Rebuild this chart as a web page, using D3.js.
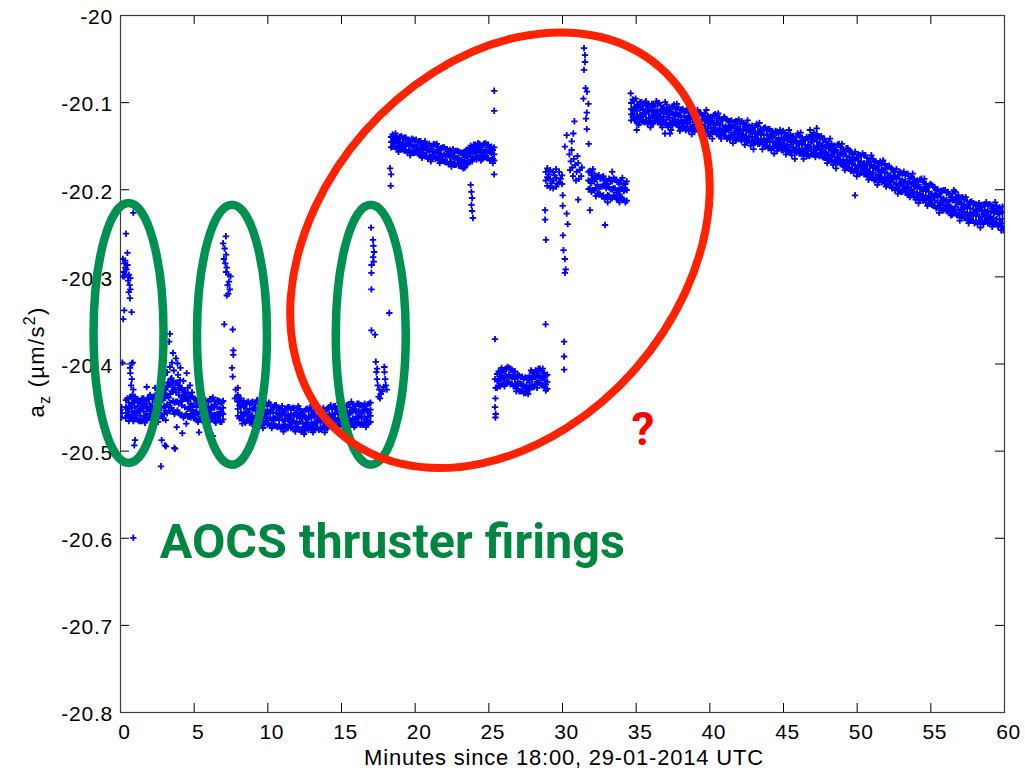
<!DOCTYPE html>
<html><head><meta charset="utf-8">
<script src="https://cdn.jsdelivr.net/npm/d3@7"></script>
<style>html,body{margin:0;padding:0;background:#fff;}svg{display:block;}</style>
</head><body>
<script>
// ---------- axis ticks ----------
const xTicks = [0,5,10,15,20,25,30,35,40,45,50,55,60];
const yTicks = [-20.8,-20.7,-20.6,-20.5,-20.4,-20.3,-20.2,-20.1,-20];
const xLabel = "Minutes since 18:00, 29-01-2014 UTC";

// ---------- data: rows are [minute, a_z values...] ----------
const baselineBand = [
[0.4,-20.442,-20.450,-20.457,-20.463],[0.6,-20.445,-20.452,-20.459,-20.466],[0.8,-20.440,-20.448,-20.455,-20.462],
[1.0,-20.443,-20.451,-20.458,-20.464],[1.2,-20.441,-20.449,-20.457,-20.465],[1.4,-20.444,-20.452,-20.460,-20.466],
[1.6,-20.440,-20.447,-20.455,-20.463],[1.8,-20.442,-20.450,-20.458,-20.465],[2.0,-20.438,-20.446,-20.454,-20.462],
[2.2,-20.441,-20.449,-20.457,-20.464],[2.4,-20.436,-20.444,-20.452,-20.460],[2.6,-20.439,-20.447,-20.455,-20.463],
[2.8,-20.434,-20.442,-20.451,-20.460],[3.0,-20.430,-20.440,-20.449,-20.458],[3.2,-20.427,-20.437,-20.447,-20.457],
[3.4,-20.424,-20.435,-20.445,-20.455],[3.6,-20.420,-20.432,-20.443,-20.454],[3.8,-20.422,-20.433,-20.444,-20.456],
[4.0,-20.425,-20.436,-20.446,-20.457],[4.2,-20.428,-20.438,-20.448,-20.459],[4.4,-20.431,-20.440,-20.450,-20.460],
[4.6,-20.434,-20.443,-20.452,-20.461],[4.8,-20.438,-20.446,-20.454,-20.462],[5.0,-20.440,-20.448,-20.456,-20.463],
[5.2,-20.442,-20.450,-20.457,-20.465],[5.4,-20.441,-20.449,-20.456,-20.464],[5.6,-20.443,-20.451,-20.458,-20.466],
[5.8,-20.442,-20.450,-20.459,-20.465],[6.0,-20.444,-20.452,-20.460,-20.467],[6.2,-20.441,-20.449,-20.457,-20.464],
[6.4,-20.443,-20.451,-20.459,-20.466],[6.6,-20.442,-20.450,-20.458,-20.465],[6.8,-20.444,-20.452,-20.460,-20.467],
[7.0,-20.443,-20.451,-20.458,-20.464],
[8.0,-20.436,-20.444,-20.452,-20.460],[8.2,-20.440,-20.448,-20.456,-20.463],[8.4,-20.443,-20.450,-20.458,-20.465],
[8.6,-20.445,-20.452,-20.459,-20.466],[8.8,-20.446,-20.453,-20.461,-20.468],[9.0,-20.444,-20.452,-20.460,-20.467],
[9.2,-20.447,-20.454,-20.461,-20.469],[9.4,-20.445,-20.453,-20.460,-20.468],[9.6,-20.448,-20.455,-20.462,-20.470],
[9.8,-20.446,-20.454,-20.461,-20.469],[10.0,-20.449,-20.456,-20.463,-20.470],[10.2,-20.447,-20.455,-20.462,-20.471],
[10.4,-20.450,-20.457,-20.464,-20.471],[10.6,-20.448,-20.456,-20.463,-20.472],[10.8,-20.451,-20.458,-20.465,-20.472],
[11.0,-20.449,-20.457,-20.464,-20.473],[11.2,-20.452,-20.459,-20.466,-20.473],[11.4,-20.450,-20.458,-20.465,-20.474],
[11.6,-20.453,-20.460,-20.467,-20.474],[11.8,-20.451,-20.459,-20.466,-20.475],[12.0,-20.454,-20.461,-20.468,-20.475],
[12.2,-20.452,-20.460,-20.467,-20.476],[12.4,-20.455,-20.462,-20.469,-20.476],[12.6,-20.453,-20.461,-20.468,-20.477],
[12.8,-20.455,-20.462,-20.470,-20.476],[13.0,-20.453,-20.461,-20.468,-20.475],[13.2,-20.455,-20.462,-20.469,-20.476],
[13.4,-20.452,-20.460,-20.467,-20.474],[13.6,-20.454,-20.461,-20.468,-20.475],[13.8,-20.451,-20.459,-20.466,-20.473],
[14.0,-20.453,-20.460,-20.467,-20.474],[14.2,-20.450,-20.458,-20.465,-20.472],[14.4,-20.452,-20.459,-20.466,-20.473],
[14.6,-20.449,-20.457,-20.464,-20.471],[14.8,-20.451,-20.458,-20.465,-20.472],[15.0,-20.448,-20.456,-20.463,-20.470],
[15.2,-20.450,-20.457,-20.464,-20.471],[15.4,-20.448,-20.455,-20.462,-20.470],[15.6,-20.450,-20.457,-20.465,-20.472],
[15.8,-20.447,-20.455,-20.463,-20.470],[16.0,-20.449,-20.456,-20.464,-20.471],[16.2,-20.446,-20.454,-20.462,-20.469],
[16.4,-20.448,-20.456,-20.463,-20.470],[16.6,-20.446,-20.453,-20.461,-20.468],[16.8,-20.447,-20.455,-20.462,-20.469],
[17.0,-20.445,-20.453,-20.460,-20.467]
];
const baselineBandB = [
[0.5,-20.440,-20.452,-20.460],[0.7,-20.438,-20.449,-20.462],[0.9,-20.445,-20.457,-20.466],[1.1,-20.441,-20.456,-20.463],
[1.3,-20.444,-20.455,-20.466],[1.5,-20.445,-20.451,-20.466],[1.7,-20.447,-20.460,-20.468],[1.9,-20.441,-20.452,-20.463],
[2.1,-20.438,-20.450,-20.458],[2.3,-20.438,-20.453,-20.460],[2.5,-20.442,-20.454,-20.463],[2.7,-20.433,-20.444,-20.457],
[2.9,-20.434,-20.442,-20.463],[3.1,-20.436,-20.454,-20.465],[3.3,-20.422,-20.439,-20.450],[3.5,-20.417,-20.432,-20.451],
[3.7,-20.428,-20.445,-20.458],[3.9,-20.423,-20.444,-20.454],[4.1,-20.428,-20.443,-20.459],[4.3,-20.433,-20.441,-20.462],
[4.5,-20.440,-20.458,-20.469],[4.7,-20.439,-20.450,-20.461],[4.9,-20.438,-20.450,-20.458],[5.1,-20.441,-20.456,-20.463],
[5.3,-20.446,-20.458,-20.467],[5.5,-20.439,-20.450,-20.463],[5.7,-20.446,-20.452,-20.467],[5.9,-20.450,-20.463,-20.471],
[6.1,-20.441,-20.453,-20.461],[6.3,-20.439,-20.450,-20.463],[6.5,-20.447,-20.459,-20.468],[6.7,-20.443,-20.458,-20.465],
[6.9,-20.445,-20.456,-20.467],
[8.1,-20.442,-20.448,-20.463],[8.3,-20.448,-20.461,-20.469],[8.5,-20.446,-20.457,-20.468],[8.7,-20.444,-20.456,-20.464],
[8.9,-20.445,-20.460,-20.467],[9.1,-20.451,-20.463,-20.472],[9.3,-20.442,-20.453,-20.466],[9.5,-20.450,-20.456,-20.471],
[9.7,-20.453,-20.466,-20.474],[9.9,-20.446,-20.458,-20.466],[10.1,-20.445,-20.456,-20.469],[10.3,-20.453,-20.465,-20.474],
[10.5,-20.448,-20.463,-20.470],[10.7,-20.451,-20.462,-20.473],[10.9,-20.453,-20.459,-20.474],[11.1,-20.457,-20.470,-20.478],
[11.3,-20.452,-20.463,-20.474],[11.5,-20.450,-20.462,-20.470],[11.7,-20.451,-20.466,-20.473],[11.9,-20.457,-20.469,-20.478],
[12.1,-20.449,-20.460,-20.473],[12.3,-20.457,-20.463,-20.478],[12.5,-20.460,-20.473,-20.481],[12.7,-20.452,-20.464,-20.472],
[12.9,-20.450,-20.461,-20.474],[13.1,-20.458,-20.470,-20.479],[13.3,-20.452,-20.467,-20.474],[13.5,-20.454,-20.465,-20.476],
[13.7,-20.455,-20.461,-20.476],[13.9,-20.458,-20.471,-20.479],[14.1,-20.452,-20.463,-20.474],[14.3,-20.448,-20.460,-20.468],
[14.5,-20.449,-20.464,-20.471],[14.7,-20.453,-20.465,-20.474],[14.9,-20.445,-20.456,-20.469],[15.1,-20.451,-20.457,-20.472],
[15.3,-20.454,-20.467,-20.475],[15.5,-20.447,-20.459,-20.467],[15.7,-20.444,-20.455,-20.468],[15.9,-20.452,-20.464,-20.473],
[16.1,-20.446,-20.461,-20.468],[16.3,-20.448,-20.459,-20.470],[16.5,-20.449,-20.455,-20.470],[16.7,-20.452,-20.465,-20.473],
[16.9,-20.446,-20.457,-20.468]
];

const upperBand = [
[18.4,-20.140,-20.146,-20.152],[18.6,-20.139,-20.145,-20.151],[18.8,-20.141,-20.147,-20.153],[19.0,-20.140,-20.146,-20.153],
[19.2,-20.142,-20.148,-20.154],[19.4,-20.141,-20.148,-20.155],[19.6,-20.143,-20.150,-20.156],[19.8,-20.142,-20.149,-20.157],
[20.0,-20.144,-20.151,-20.158],[20.2,-20.146,-20.152,-20.159],[20.4,-20.145,-20.153,-20.160],[20.6,-20.147,-20.154,-20.161],
[20.8,-20.149,-20.155,-20.162],[21.0,-20.148,-20.156,-20.163],[21.2,-20.150,-20.157,-20.164],[21.4,-20.149,-20.158,-20.165],
[21.6,-20.151,-20.159,-20.166],[21.8,-20.153,-20.160,-20.167],[22.0,-20.152,-20.160,-20.168],[22.2,-20.154,-20.161,-20.169],
[22.4,-20.155,-20.163,-20.170],[22.6,-20.154,-20.162,-20.171],[22.8,-20.156,-20.164,-20.172],[23.0,-20.157,-20.165,-20.173],
[23.2,-20.158,-20.166,-20.174],[23.4,-20.157,-20.167,-20.175],[23.6,-20.155,-20.163,-20.171],[23.8,-20.150,-20.158,-20.166],
[24.0,-20.149,-20.157,-20.165],[24.2,-20.151,-20.158,-20.166],[24.4,-20.148,-20.156,-20.164],[24.6,-20.150,-20.157,-20.165],
[24.8,-20.147,-20.155,-20.163],[25.0,-20.149,-20.156,-20.164],[25.2,-20.151,-20.158,-20.166],[25.4,-20.152,-20.160,-20.167]
];
const upperBandB = [
[18.5,-20.137,-20.145,-20.151],[18.7,-20.136,-20.143,-20.152],[18.9,-20.142,-20.151,-20.157],[19.1,-20.139,-20.149,-20.154],
[19.3,-20.141,-20.149,-20.156],[19.5,-20.143,-20.148,-20.158],[19.7,-20.146,-20.156,-20.161],[19.9,-20.143,-20.151,-20.158],
[20.1,-20.143,-20.151,-20.157],[20.3,-20.145,-20.155,-20.160],[20.5,-20.149,-20.158,-20.164],[20.7,-20.145,-20.152,-20.161],
[20.9,-20.150,-20.155,-20.165],[21.1,-20.153,-20.163,-20.168],[21.3,-20.148,-20.156,-20.162],[21.5,-20.148,-20.155,-20.164],
[21.7,-20.155,-20.164,-20.170],[21.9,-20.152,-20.162,-20.167],[22.1,-20.154,-20.162,-20.169],[22.3,-20.156,-20.161,-20.171],
[22.5,-20.159,-20.169,-20.174],[22.7,-20.157,-20.165,-20.172],[22.9,-20.156,-20.164,-20.170],[23.1,-20.158,-20.168,-20.173],
[23.3,-20.161,-20.170,-20.176],[23.5,-20.155,-20.162,-20.171],[23.7,-20.154,-20.159,-20.169],[23.9,-20.153,-20.163,-20.168],
[24.1,-20.149,-20.157,-20.163],[24.3,-20.147,-20.154,-20.163],[24.5,-20.152,-20.161,-20.167],[24.7,-20.148,-20.158,-20.163],
[24.9,-20.149,-20.157,-20.164],[25.1,-20.152,-20.157,-20.167],[25.3,-20.155,-20.165,-20.170]
];

const lowerBand = [
[25.6,-20.412,-20.420,-20.428],[25.8,-20.410,-20.418,-20.426],[26.0,-20.408,-20.416,-20.424],[26.2,-20.406,-20.414,-20.423],
[26.4,-20.405,-20.413,-20.421],[26.6,-20.407,-20.415,-20.423],[26.8,-20.409,-20.418,-20.426],[27.0,-20.413,-20.421,-20.429],
[27.2,-20.416,-20.424,-20.432],[27.4,-20.418,-20.426,-20.434],[27.6,-20.417,-20.425,-20.433],[27.8,-20.414,-20.422,-20.430],
[28.0,-20.410,-20.418,-20.426],[28.2,-20.408,-20.416,-20.424],[28.4,-20.406,-20.414,-20.422],[28.6,-20.409,-20.417,-20.425],
[28.8,-20.411,-20.419,-20.427],[29.0,-20.413,-20.421,-20.429]
];
const lowerBandB = [
[25.7,-20.409,-20.418,-20.425],[25.9,-20.405,-20.414,-20.424],[26.1,-20.409,-20.419,-20.426],[26.3,-20.404,-20.416,-20.422],
[26.5,-20.406,-20.415,-20.424],[26.7,-20.410,-20.414,-20.426],[26.9,-20.415,-20.425,-20.432],[27.1,-20.414,-20.423,-20.432],
[27.3,-20.415,-20.424,-20.431],[27.5,-20.416,-20.428,-20.434],[27.7,-20.418,-20.428,-20.435],[27.9,-20.408,-20.417,-20.427],
[28.1,-20.411,-20.415,-20.427],[28.3,-20.411,-20.421,-20.428],[28.5,-20.406,-20.415,-20.422],[28.7,-20.406,-20.415,-20.425],
[28.9,-20.414,-20.424,-20.431]
];

const rightCluster = [
[31.8,-20.180,-20.190,-20.200],[32.0,-20.184,-20.193,-20.203],[32.2,-20.182,-20.191,-20.201],[32.4,-20.186,-20.195,-20.205],
[32.6,-20.188,-20.197,-20.206],[32.8,-20.185,-20.195,-20.207],[33.0,-20.190,-20.199,-20.209],[33.2,-20.188,-20.198,-20.208],
[33.4,-20.191,-20.200,-20.210],[33.6,-20.189,-20.199,-20.209],[33.8,-20.192,-20.201,-20.211],[34.0,-20.190,-20.200,-20.210],
[34.2,-20.193,-20.202,-20.212],[34.4,-20.191,-20.201,-20.213]
];
const rightClusterB = [
[31.9,-20.179,-20.191,-20.199],[32.1,-20.177,-20.188,-20.201],[32.3,-20.187,-20.199,-20.208],[32.5,-20.184,-20.199,-20.206],
[32.7,-20.186,-20.197,-20.208],[32.9,-20.190,-20.196,-20.211],[33.1,-20.194,-20.207,-20.215],[33.3,-20.189,-20.200,-20.211],
[33.5,-20.187,-20.199,-20.207],[33.7,-20.189,-20.204,-20.211],[33.9,-20.194,-20.206,-20.215],[34.1,-20.187,-20.198,-20.211],
[34.3,-20.194,-20.200,-20.215]
];

const driftBand = [
[34.7,-20.101,-20.108,-20.114,-20.121],[34.9,-20.098,-20.106,-20.113,-20.119],[35.1,-20.103,-20.110,-20.116,-20.124],
[35.3,-20.100,-20.107,-20.115,-20.120],[35.5,-20.104,-20.109,-20.117,-20.122],[35.7,-20.099,-20.108,-20.113,-20.121],
[35.9,-20.103,-20.111,-20.118,-20.123],[36.1,-20.102,-20.109,-20.116,-20.124],[36.3,-20.105,-20.112,-20.118,-20.121],
[36.5,-20.101,-20.110,-20.115,-20.123],[36.7,-20.104,-20.111,-20.119,-20.125],[36.9,-20.106,-20.113,-20.117,-20.124],
[37.1,-20.103,-20.112,-20.120,-20.126],[37.3,-20.107,-20.114,-20.118,-20.125],[37.5,-20.105,-20.113,-20.121,-20.127],
[37.7,-20.108,-20.115,-20.120,-20.124],[37.9,-20.106,-20.116,-20.122,-20.128],[38.1,-20.109,-20.117,-20.121,-20.129],
[38.3,-20.111,-20.116,-20.124,-20.130],[38.5,-20.108,-20.118,-20.125,-20.128],[38.7,-20.112,-20.119,-20.123,-20.131],
[38.9,-20.110,-20.120,-20.126,-20.132],[39.1,-20.114,-20.119,-20.127,-20.130],[39.3,-20.112,-20.121,-20.125,-20.133],
[39.5,-20.115,-20.122,-20.128,-20.134],[39.7,-20.113,-20.120,-20.127,-20.131],[39.9,-20.116,-20.124,-20.130,-20.135],
[40.1,-20.117,-20.123,-20.129,-20.136],[40.3,-20.115,-20.125,-20.131,-20.134],[40.5,-20.119,-20.124,-20.132,-20.137],
[40.7,-20.118,-20.126,-20.130,-20.138],[40.9,-20.120,-20.127,-20.133,-20.136],[41.1,-20.119,-20.128,-20.134,-20.139],
[41.3,-20.122,-20.127,-20.132,-20.140],[41.5,-20.121,-20.129,-20.135,-20.138],[41.7,-20.123,-20.130,-20.136,-20.141],
[41.9,-20.122,-20.128,-20.137,-20.142],[42.1,-20.125,-20.131,-20.136,-20.143],[42.3,-20.124,-20.132,-20.138,-20.141],
[42.5,-20.126,-20.133,-20.139,-20.145],[42.7,-20.128,-20.132,-20.140,-20.144],[42.9,-20.127,-20.134,-20.141,-20.146],
[43.1,-20.129,-20.136,-20.140,-20.147],[43.3,-20.128,-20.135,-20.142,-20.148],[43.5,-20.131,-20.137,-20.143,-20.146],
[43.7,-20.130,-20.138,-20.144,-20.149],[43.9,-20.132,-20.137,-20.145,-20.150],[44.1,-20.131,-20.139,-20.146,-20.151],
[44.3,-20.134,-20.140,-20.145,-20.152],[44.5,-20.133,-20.141,-20.147,-20.150],[44.7,-20.135,-20.142,-20.148,-20.153],
[44.9,-20.136,-20.141,-20.149,-20.155],[45.1,-20.135,-20.143,-20.150,-20.154],[45.3,-20.138,-20.144,-20.149,-20.156],
[45.5,-20.137,-20.145,-20.151,-20.157],[45.7,-20.139,-20.146,-20.152,-20.155],[45.9,-20.140,-20.145,-20.153,-20.158],
[46.1,-20.139,-20.147,-20.154,-20.159],[46.3,-20.141,-20.148,-20.153,-20.160],[46.5,-20.143,-20.149,-20.155,-20.158],
[46.7,-20.142,-20.150,-20.156,-20.161],[46.9,-20.138,-20.146,-20.154,-20.160],[47.1,-20.135,-20.143,-20.151,-20.158],
[47.3,-20.137,-20.145,-20.152,-20.159],[47.5,-20.140,-20.147,-20.155,-20.162],[47.7,-20.143,-20.150,-20.157,-20.163],
[47.9,-20.146,-20.152,-20.158,-20.164],[48.1,-20.145,-20.153,-20.160,-20.166],[48.3,-20.148,-20.155,-20.161,-20.167],
[48.5,-20.150,-20.156,-20.163,-20.169],[48.7,-20.149,-20.158,-20.164,-20.170],[48.9,-20.152,-20.159,-20.166,-20.171],
[49.1,-20.154,-20.160,-20.167,-20.173],[49.3,-20.153,-20.162,-20.168,-20.174],[49.5,-20.156,-20.163,-20.170,-20.176],
[49.7,-20.158,-20.165,-20.171,-20.177],[49.9,-20.157,-20.166,-20.173,-20.178],[50.1,-20.160,-20.167,-20.174,-20.180],
[50.3,-20.162,-20.169,-20.175,-20.181],[50.5,-20.161,-20.170,-20.177,-20.183],[50.7,-20.164,-20.172,-20.178,-20.184],
[50.9,-20.166,-20.173,-20.180,-20.186],[51.1,-20.165,-20.175,-20.181,-20.187],[51.3,-20.168,-20.176,-20.183,-20.189],
[51.5,-20.170,-20.178,-20.184,-20.190],[51.7,-20.172,-20.179,-20.186,-20.192],[51.9,-20.171,-20.181,-20.187,-20.193],
[52.1,-20.174,-20.182,-20.189,-20.195],[52.3,-20.176,-20.184,-20.190,-20.196],[52.5,-20.178,-20.185,-20.192,-20.198],
[52.7,-20.177,-20.187,-20.194,-20.199],[52.9,-20.180,-20.188,-20.195,-20.201],[53.1,-20.182,-20.190,-20.196,-20.203],
[53.3,-20.184,-20.191,-20.198,-20.204],[53.5,-20.183,-20.193,-20.200,-20.206],[53.7,-20.186,-20.194,-20.201,-20.207],
[53.9,-20.188,-20.196,-20.203,-20.209],[54.1,-20.190,-20.197,-20.204,-20.210],[54.3,-20.189,-20.199,-20.206,-20.212],
[54.5,-20.192,-20.200,-20.207,-20.213],[54.7,-20.194,-20.202,-20.209,-20.215],[54.9,-20.196,-20.203,-20.210,-20.216],
[55.1,-20.195,-20.205,-20.212,-20.218],[55.3,-20.198,-20.206,-20.213,-20.219],[55.5,-20.200,-20.208,-20.215,-20.221],
[55.7,-20.202,-20.209,-20.216,-20.222],[55.9,-20.201,-20.211,-20.218,-20.224],[56.1,-20.204,-20.212,-20.219,-20.225],
[56.3,-20.206,-20.214,-20.221,-20.227],[56.5,-20.205,-20.213,-20.222,-20.229],[56.7,-20.203,-20.211,-20.220,-20.228],
[56.9,-20.207,-20.215,-20.223,-20.230],[57.1,-20.210,-20.217,-20.225,-20.232],[57.3,-20.212,-20.219,-20.226,-20.233],
[57.5,-20.214,-20.220,-20.227,-20.234],[57.7,-20.215,-20.222,-20.228,-20.235],[57.9,-20.216,-20.223,-20.229,-20.236],
[58.1,-20.217,-20.224,-20.230,-20.237],[58.3,-20.216,-20.223,-20.231,-20.236],[58.5,-20.218,-20.225,-20.232,-20.238],
[58.7,-20.217,-20.224,-20.230,-20.237],[58.9,-20.219,-20.226,-20.233,-20.239],[59.1,-20.218,-20.225,-20.232,-20.238],
[59.3,-20.220,-20.227,-20.233,-20.240],[59.5,-20.219,-20.226,-20.234,-20.239],[59.7,-20.221,-20.228,-20.235,-20.241],
[59.9,-20.220,-20.227,-20.234,-20.242]
];
const driftBandB = [
[34.8,-20.097,-20.109,-20.117],[35.0,-20.096,-20.107,-20.120],[35.2,-20.105,-20.117,-20.126],[35.4,-20.100,-20.115,-20.122],
[35.6,-20.101,-20.112,-20.123],[35.8,-20.104,-20.110,-20.125],[36.0,-20.108,-20.121,-20.129],[36.2,-20.103,-20.114,-20.125],
[36.4,-20.099,-20.111,-20.119],[36.6,-20.101,-20.116,-20.123],[36.8,-20.108,-20.120,-20.129],[37.0,-20.100,-20.111,-20.124],
[37.2,-20.108,-20.114,-20.129],[37.4,-20.111,-20.124,-20.132],[37.6,-20.103,-20.115,-20.123],[37.8,-20.102,-20.113,-20.126],
[38.0,-20.112,-20.124,-20.133],[38.2,-20.108,-20.123,-20.130],[38.4,-20.110,-20.121,-20.132],[38.6,-20.112,-20.118,-20.133],
[38.8,-20.116,-20.129,-20.137],[39.0,-20.112,-20.123,-20.134],[39.2,-20.109,-20.121,-20.129],[39.4,-20.112,-20.127,-20.134],
[39.6,-20.116,-20.128,-20.137],[39.8,-20.109,-20.120,-20.133],[40.0,-20.118,-20.124,-20.139],[40.2,-20.121,-20.134,-20.142],
[40.4,-20.114,-20.126,-20.134],[40.6,-20.113,-20.124,-20.137],[40.8,-20.121,-20.133,-20.142],[41.0,-20.117,-20.132,-20.139],
[41.2,-20.120,-20.131,-20.142],[41.4,-20.122,-20.128,-20.143],[41.6,-20.126,-20.139,-20.147],[41.8,-20.122,-20.133,-20.144],
[42.0,-20.120,-20.132,-20.140],[42.2,-20.122,-20.137,-20.144],[42.4,-20.128,-20.140,-20.149],[42.6,-20.121,-20.132,-20.145],
[42.8,-20.129,-20.135,-20.150],[43.0,-20.133,-20.146,-20.154],[43.2,-20.125,-20.137,-20.145],[43.4,-20.124,-20.135,-20.148],
[43.6,-20.133,-20.145,-20.154],[43.8,-20.129,-20.144,-20.151],[44.0,-20.131,-20.142,-20.153],[44.2,-20.134,-20.140,-20.155],
[44.4,-20.138,-20.151,-20.159],[44.6,-20.134,-20.145,-20.156],[44.8,-20.132,-20.144,-20.152],[45.0,-20.133,-20.148,-20.155],
[45.2,-20.139,-20.151,-20.160],[45.4,-20.132,-20.143,-20.156],[45.6,-20.140,-20.146,-20.161],[45.8,-20.144,-20.157,-20.165],
[46.0,-20.136,-20.148,-20.156],[46.2,-20.135,-20.146,-20.159],[46.4,-20.144,-20.156,-20.165],[46.6,-20.140,-20.155,-20.162],
[46.8,-20.140,-20.151,-20.162],[47.0,-20.139,-20.145,-20.160],[47.2,-20.142,-20.155,-20.163],[47.4,-20.139,-20.150,-20.161],
[47.6,-20.139,-20.151,-20.159],[47.8,-20.142,-20.157,-20.164],[48.0,-20.149,-20.161,-20.170],[48.2,-20.142,-20.153,-20.166],
[48.4,-20.151,-20.157,-20.172],[48.6,-20.155,-20.168,-20.176],[48.8,-20.148,-20.160,-20.168],[49.0,-20.148,-20.159,-20.172],
[49.2,-20.157,-20.169,-20.178],[49.4,-20.153,-20.168,-20.175],[49.6,-20.157,-20.168,-20.179],[49.8,-20.160,-20.166,-20.181],
[50.0,-20.164,-20.177,-20.185],[50.2,-20.161,-20.172,-20.183],[50.4,-20.159,-20.171,-20.179],[50.6,-20.161,-20.176,-20.183],
[50.8,-20.168,-20.180,-20.189],[51.0,-20.161,-20.172,-20.185],[51.2,-20.169,-20.175,-20.190],[51.4,-20.174,-20.187,-20.195],
[51.6,-20.168,-20.180,-20.188],[51.8,-20.167,-20.178,-20.191],[52.0,-20.176,-20.188,-20.197],[52.2,-20.173,-20.188,-20.195],
[52.4,-20.177,-20.188,-20.199],[52.6,-20.180,-20.186,-20.201],[52.8,-20.184,-20.197,-20.205],[53.0,-20.181,-20.192,-20.203],
[53.2,-20.180,-20.192,-20.200],[53.4,-20.182,-20.197,-20.204],[53.6,-20.188,-20.200,-20.209],[53.8,-20.182,-20.193,-20.206],
[54.0,-20.191,-20.197,-20.212],[54.2,-20.195,-20.208,-20.216],[54.4,-20.188,-20.200,-20.208],[54.6,-20.188,-20.199,-20.212],
[54.8,-20.198,-20.210,-20.219],[55.0,-20.194,-20.209,-20.216],[55.2,-20.197,-20.208,-20.219],[55.4,-20.201,-20.207,-20.222],
[55.6,-20.206,-20.219,-20.227],[55.8,-20.202,-20.213,-20.224],[56.0,-20.201,-20.213,-20.221],[56.2,-20.203,-20.218,-20.225],
[56.4,-20.209,-20.221,-20.230],[56.6,-20.201,-20.212,-20.225],[56.8,-20.209,-20.215,-20.230],[57.0,-20.215,-20.228,-20.236],
[57.2,-20.209,-20.221,-20.229],[57.4,-20.209,-20.220,-20.233],[57.6,-20.218,-20.230,-20.239],[57.8,-20.214,-20.229,-20.236],
[58.0,-20.217,-20.228,-20.239],[58.2,-20.219,-20.225,-20.240],[58.4,-20.223,-20.236,-20.244],[58.6,-20.218,-20.229,-20.240],
[58.8,-20.215,-20.227,-20.235],[59.0,-20.217,-20.232,-20.239],[59.2,-20.222,-20.234,-20.243],[59.4,-20.215,-20.226,-20.239],
[59.6,-20.222,-20.228,-20.243],[59.8,-20.226,-20.239,-20.247]
];

// single samples [minute, a_z]
const firing1 = [
[0.9,-20.227],[0.41,-20.251],[0.5,-20.273],[0.2,-20.280],[0.3,-20.285],[0.35,-20.290],[0.25,-20.295],[0.4,-20.298],
[0.3,-20.300],[0.45,-20.292],[0.5,-20.287],[0.2,-20.300],[0.35,-20.282],[0.6,-20.298],[0.7,-20.302],[0.65,-20.310],
[0.55,-20.305],[0.7,-20.315],[0.6,-20.318],[0.68,-20.325],[0.29,-20.339],[0.22,-20.349],[0.79,-20.341],[0.16,-20.399],
[0.86,-20.399],[0.8,-20.400],[0.68,-20.405],[0.7,-20.411],[0.8,-20.418],[0.75,-20.425],[0.9,-20.430],[0.85,-20.436],
[1.0,-20.438],[0.1,-20.450],[0.12,-20.457],[0.1,-20.462],[0.05,-20.453],[0.9,-20.600]
];
const humpScatter = [
[1.81,-20.427],[3.33,-20.375],[3.39,-20.366],[3.8,-20.394],[3.53,-20.399],[3.6,-20.388],[3.39,-20.404],[3.94,-20.413],
[4.53,-20.411],[3.26,-20.422],[4.21,-20.430],[4.89,-20.433],[2.7,-20.436],[2.38,-20.428],[3.05,-20.413],[4.07,-20.419],
[4.41,-20.436],[4.75,-20.425],[3.73,-20.430],[5.16,-20.442],[2.04,-20.436],[3.2,-20.410],[3.45,-20.418],[3.65,-20.408],
[3.9,-20.400],[4.1,-20.405],[4.3,-20.420],[4.6,-20.428],[2.9,-20.425],[3.1,-20.430],[3.55,-20.425],[4.0,-20.430],
[2.5,-20.440],[1.5,-20.440],[1.2,-20.445],
[1.02,-20.488],[0.97,-20.494],[2.83,-20.488],[3.05,-20.494],[2.78,-20.518],[3.12,-20.495],[3.73,-20.498],[3.85,-20.473],
[4.23,-20.480],[5.36,-20.479],[6.31,-20.483],[2.58,-20.467],[3.69,-20.497]
];
const firing2 = [
[7.19,-20.254],[7.0,-20.262],[7.1,-20.268],[7.2,-20.275],[7.05,-20.280],[7.15,-20.285],[7.25,-20.290],[7.2,-20.295],
[7.35,-20.298],[7.5,-20.300],[7.4,-20.306],[7.3,-20.310],[7.45,-20.315],[7.35,-20.320],[7.25,-20.322],[7.08,-20.355],
[7.65,-20.361],[7.69,-20.385],[7.69,-20.390],[7.6,-20.405],[7.65,-20.415],[7.85,-20.430],[7.95,-20.438],[8.0,-20.428],[7.8,-20.440]
];
const firing3 = [
[17.04,-20.244],[17.17,-20.258],[17.2,-20.265],[17.25,-20.272],[17.18,-20.278],[17.22,-20.283],[17.08,-20.287],[17.06,-20.296],
[17.06,-20.315],[18.28,-20.342],[17.06,-20.362],[17.31,-20.367],[17.36,-20.398],[17.94,-20.404],[17.4,-20.410],[17.45,-20.418],
[17.5,-20.425],[17.6,-20.430],[17.7,-20.435],[17.55,-20.438],[17.8,-20.432],[17.95,-20.410],[18.0,-20.418],[18.05,-20.425],
[18.1,-20.430],[17.9,-20.427],[17.65,-20.440],[17.45,-20.406]
];
const unexplainedScatter = [
[25.4,-20.087],[25.4,-20.110],[18.33,-20.176],[18.4,-20.183],[18.37,-20.196],[23.8,-20.195],[23.85,-20.203],[23.9,-20.210],
[23.85,-20.218],[23.9,-20.225],[23.95,-20.233],[25.39,-20.183],
[25.45,-20.418],[25.5,-20.428],[25.48,-20.440],[25.45,-20.450],[25.5,-20.458],[25.48,-20.462],[25.45,-20.372],[28.89,-20.355],
[30.14,-20.375],[30.14,-20.392],[30.14,-20.407],
[28.85,-20.224],[28.85,-20.235],[28.91,-20.258],[30.07,-20.253],[30.1,-20.270],[30.2,-20.280],[30.25,-20.292],[30.2,-20.296],
[30.05,-20.207],[30.05,-20.219],[30.32,-20.228],[30.39,-20.240],
[31.49,-20.038],[31.56,-20.046],[31.56,-20.054],[31.49,-20.063],[31.6,-20.084],[31.7,-20.088],[31.45,-20.096],[31.79,-20.102],
[31.68,-20.112],[31.63,-20.119],[31.68,-20.131],[31.81,-20.148],
[30.84,-20.122],[30.77,-20.136],[30.32,-20.138],[30.2,-20.151],[30.66,-20.145],[30.5,-20.160],[30.6,-20.168],[30.7,-20.175],
[30.8,-20.165],[30.9,-20.172],[31.0,-20.180],[31.1,-20.170],[31.2,-20.178],[31.3,-20.185],[30.55,-20.178],[30.75,-20.185],
[30.95,-20.190],[31.15,-20.188],[31.35,-20.175],[30.65,-20.155],[31.05,-20.162],[31.1,-20.212],[31.9,-20.224],[33.41,-20.180],
[32.92,-20.241],
[28.9,-20.180],[28.9,-20.190],[29.0,-20.176],[29.0,-20.186],[29.0,-20.196],[29.2,-20.178],[29.2,-20.188],[29.2,-20.198],
[29.4,-20.180],[29.4,-20.190],[29.4,-20.199],[29.6,-20.177],[29.6,-20.187],[29.6,-20.197],[29.8,-20.180],[29.8,-20.192],
[30.0,-20.184],[30.0,-20.194],[29.1,-20.183],[29.3,-20.193],[29.5,-20.184],[29.7,-20.194],[29.9,-20.188]
];
const driftOutliers = [
[35.07,-20.132],[36.99,-20.136],[37.33,-20.136],[46.83,-20.132],[47.29,-20.130],[49.89,-20.207],[59.95,-20.247],[34.66,-20.090]
];

// annotation anchors in data units: [centre minute, centre a_z]
const greenRings = [[0.58,-20.365],[7.6,-20.367],[17.02,-20.367]];
const redRing = [25.79,-20.270];
const noteText = "AOCS thruster firings";
const noteAnchor = [2.7,-20.623];
const questionAnchor = [35.5,-20.493];

// ---------- layout ----------
const W = 1025, H = 774;
const M = {left:120, right:1004, top:15, bottom:712};
const x = d3.scaleLinear().domain([0,60]).range([M.left, M.right]);
const y = d3.scaleLinear().domain([-20.8,-20]).range([M.bottom, M.top]);

const svg = d3.select("body").append("svg").attr("width", W).attr("height", H)
  .style("font-family", "'Liberation Sans', Arial, sans-serif");
svg.append("rect").attr("width", W).attr("height", H).attr("fill", "#fff");

svg.append("defs").append("clipPath").attr("id","clip")
  .append("rect").attr("x", M.left).attr("y", M.top).attr("width", M.right-M.left).attr("height", M.bottom-M.top);

// axes
const fmt = d => String(+d.toFixed(1));
const gx = svg.append("g").attr("transform", `translate(0,${M.bottom})`)
  .call(d3.axisBottom(x).tickValues(xTicks).tickSizeInner(-9).tickSizeOuter(0).tickPadding(12).tickFormat(d => String(d)));
gx.selectAll("text").attr("font-size", 21).attr("letter-spacing", 0.7).attr("fill", "#000").attr("dx", 4).attr("font-family", null);
const gy = svg.append("g").attr("transform", `translate(${M.left},0)`)
  .call(d3.axisLeft(y).tickValues(yTicks).tickSizeInner(-9).tickSizeOuter(0).tickPadding(7).tickFormat(fmt));
gy.selectAll("text").attr("font-size", 21).attr("letter-spacing", 0.8).attr("fill", "#000").attr("dy", "0.42em").attr("font-family", null);
const gt = svg.append("g").attr("transform", `translate(0,${M.top})`)
  .call(d3.axisTop(x).tickValues(xTicks).tickSizeInner(-9).tickSizeOuter(0).tickFormat(""));
const gr = svg.append("g").attr("transform", `translate(${M.right},0)`)
  .call(d3.axisRight(y).tickValues(yTicks).tickSizeInner(-9).tickSizeOuter(0).tickFormat(""));
[gx,gy,gt,gr].forEach(g => { g.attr("font-family", null); g.select(".domain").remove(); g.selectAll("line").attr("stroke","#000"); });

svg.append("rect").attr("x", M.left+0.5).attr("y", M.top+0.5)
  .attr("width", M.right-M.left).attr("height", M.bottom-M.top)
  .attr("fill","none").attr("stroke","#3c3c3c").attr("stroke-width",1.2);

// axis titles
svg.append("text").attr("x", (M.left+M.right)/2+2).attr("y", 765).attr("text-anchor","middle")
  .attr("font-size", 22).attr("letter-spacing", 0.8).text(xLabel);
const yl = svg.append("text").attr("transform", "translate(44,362) rotate(-90)").attr("text-anchor","middle")
  .attr("font-size", 22).attr("letter-spacing", 1.3);
yl.append("tspan").text("a");
yl.append("tspan").attr("font-size", 16).attr("dy", 6).text("z");
yl.append("tspan").attr("dy", -6).text(" (\u00b5m/s");
yl.append("tspan").attr("font-size", 16).attr("dy", -9).text("2");
yl.append("tspan").attr("dy", 9).text(")");

// data points
const rowsToPts = rows => rows.flatMap(r => r.slice(1).map(v => [r[0], v]));
const allPts = [].concat(
  rowsToPts(baselineBand), rowsToPts(baselineBandB), rowsToPts(upperBand), rowsToPts(upperBandB),
  rowsToPts(lowerBand), rowsToPts(lowerBandB), rowsToPts(rightCluster), rowsToPts(rightClusterB),
  rowsToPts(driftBand), rowsToPts(driftBandB),
  firing1, humpScatter, firing2, firing3, unexplainedScatter, driftOutliers);
svg.append("g").attr("clip-path","url(#clip)")
  .selectAll("path").data(allPts).join("path")
  .attr("d","M-3.2,0H3.2M0,-3.2V3.2")
  .attr("transform", d => `translate(${x(d[0]).toFixed(1)},${y(d[1]).toFixed(1)})`)
  .attr("stroke","#0000ff").attr("stroke-width",1.8).attr("fill","none");

// annotations
const green = "#009150";
svg.append("g").selectAll("ellipse").data(greenRings).join("ellipse")
  .attr("cx", d => x(d[0])).attr("cy", d => y(d[1]))
  .attr("rx", 35).attr("ry", 130)
  .attr("fill","none").attr("stroke", green).attr("stroke-width", 8.5);

svg.append("ellipse")
  .attr("transform", `translate(${x(redRing[0])},${y(redRing[1])}) rotate(-48.7)`)
  .attr("rx", 243).attr("ry", 180)
  .attr("fill","none").attr("stroke","#ff2200").attr("stroke-width", 8);

svg.append("text").attr("x", x(noteAnchor[0])).attr("y", y(noteAnchor[1]))
  .attr("font-family","Roboto, 'Open Sans', sans-serif").attr("font-weight", 700)
  .attr("font-size", 48.5).attr("fill", "#00873f").text(noteText);

svg.append("text").attr("x", x(questionAnchor[0])).attr("y", y(questionAnchor[1]))
  .attr("text-anchor","middle")
  .attr("font-family","Roboto, 'Open Sans', sans-serif").attr("font-weight", 700)
  .attr("font-size", 46).attr("fill", "#ff0000").text("?");
</script>
</body></html>
